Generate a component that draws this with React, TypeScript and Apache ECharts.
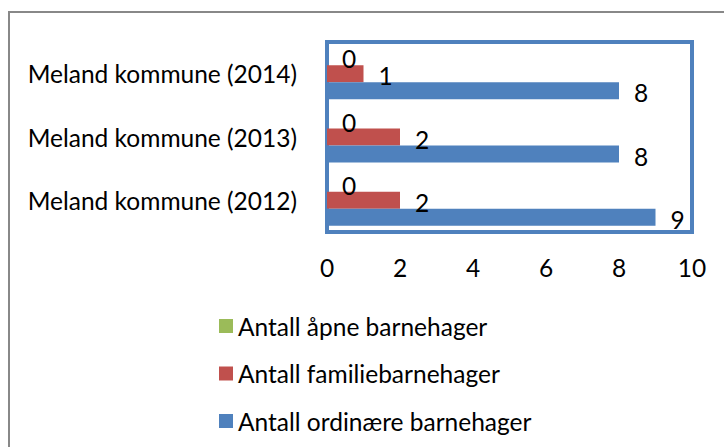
import React, { useEffect, useRef } from "react";
import * as echarts from "echarts";

const categories = ["Meland kommune (2012)", "Meland kommune (2013)", "Meland kommune (2014)"];
const seriesNames = ["Antall åpne barnehager", "Antall familiebarnehager", "Antall ordinære barnehager"];
const apne = [0, 0, 0];
const familie = [2, 2, 1];
const ordinaere = [9, 8, 8];
const xTicks = [0, 2, 4, 6, 8, 10];
const colors = ["#9BBB59", "#C0504D", "#4F81BD"];

const FONT = "Lato";
const FS = 24.5;

export default function App() {
  const ref = useRef<HTMLDivElement>(null);
  useEffect(() => {
    if (!ref.current) return;
    const chart = echarts.init(ref.current, undefined, { renderer: "svg" });
    const label = {
      show: true,
      position: "right",
      distance: 15,
      offset: [0, 2],
      color: "#000",
      fontFamily: FONT,
      fontSize: FS,
    };
    const values = [apne, familie, ordinaere];
    chart.setOption({
      animation: false,
      backgroundColor: "#fff",
      textStyle: { fontFamily: FONT },
      graphic: [
        {
          type: "rect",
          shape: { x: 9, y: 12, width: 900, height: 600 },
          style: { fill: "none", stroke: "#888", lineWidth: 2 },
          silent: true,
        },
      ],
      grid: {
        left: 327,
        right: 32,
        top: 42,
        bottom: 215,
        show: true,
        borderColor: "#4F81BD",
        borderWidth: 4,
        backgroundColor: "transparent",
      },
      xAxis: {
        type: "value",
        min: xTicks[0],
        max: xTicks[xTicks.length - 1],
        interval: 2,
        axisLine: { show: false },
        axisTick: { show: false },
        splitLine: { show: false },
        axisLabel: { color: "#000", fontFamily: FONT, fontSize: FS, margin: 23 },
      },
      yAxis: {
        type: "category",
        data: categories,
        axisLine: { show: false },
        axisTick: { show: false },
        axisLabel: { color: "#000", fontFamily: FONT, fontSize: FS, margin: 30 },
      },
      legend: {
        orient: "vertical",
        left: 214,
        top: 308,
        icon: "rect",
        itemWidth: 14,
        itemHeight: 14,
        itemGap: 21.5,
        textStyle: { color: "#000", fontFamily: FONT, fontSize: FS, lineHeight: 26 },
        data: seriesNames,
      },
      series: seriesNames.map((name, i) => ({
        name,
        type: "bar",
        data: values[i],
        barWidth: 17,
        barGap: "0%",
        itemStyle: { color: colors[i] },
        label,
      })),
    });
    return () => chart.dispose();
  }, []);
  return (
    <div
      ref={ref}
      style={{ position: "fixed", left: 0, top: 0, width: 724, height: 447 }}
    />
  );
}
